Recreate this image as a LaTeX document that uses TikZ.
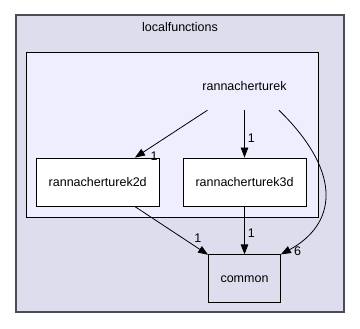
\documentclass[tikz,border=0pt]{standalone}
\usepackage{fontspec}
\setmainfont{Liberation Sans}
\usetikzlibrary{arrows.meta, positioning, calc}
\definecolor{dirouter}{HTML}{DDDDEE}
\definecolor{dirinner}{HTML}{EEEEFF}
\definecolor{dirframe}{HTML}{4D4D55}

\begin{document}
\begin{tikzpicture}[
        x=1pt, y=1pt,
        font=\fontsize{12.5}{14}\selectfont,
        cluster/.style={draw, line width=0.8pt},
        dirbox/.style={draw, line width=0.8pt, minimum width=123pt, minimum height=48pt, fill=white},
        dirlabel/.style={minimum width=123pt, minimum height=48pt},
        dep/.style={-{Triangle[length=10pt, width=7.5pt]}, line width=0.8pt},
        num/.style={inner sep=1pt}
    ]
        \useasboundingbox (0,0) rectangle (360,329);

        % directory frames
        \draw[cluster, draw=dirframe, fill=dirouter, line width=1.6pt] (16,17) rectangle (344,314);
        \node at (180,302) {localfunctions};
        \draw[cluster, fill=dirinner] (26,112) rectangle (318,277);

        \node[dirlabel] (rannacherturek) at (244.5,243) {rannacherturek};
        \node[dirbox] (turek3d) at (244.5,147) {rannacherturek3d};
        \node[dirbox, left=23pt of turek3d] (turek2d) {rannacherturek2d};
        \node[dirbox, fill=dirouter, minimum width=72pt, below=48pt of turek3d] (common) {common};

        \draw[dep] (rannacherturek) -- node[num, pos=0.97, right=12pt]{1} (turek2d);
        \draw[dep] (rannacherturek) -- node[num, pos=0.6, right=2pt]{1} (turek3d);
        \draw[dep] ([xshift=34.5pt]rannacherturek.south) .. controls (345,154) and (335,104) ..
            node[num, pos=0.97, right=7pt]{6} (common.north east);
        \draw[dep] (turek2d) -- node[num, pos=0.78, above right=0pt and 1pt]{1} (common);
        \draw[dep] (turek3d) -- node[num, pos=0.55, right=2pt]{1} (common);
    \end{tikzpicture}
\end{document}
